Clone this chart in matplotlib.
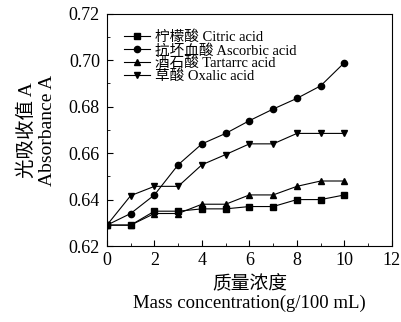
import matplotlib
matplotlib.use("Agg")
import matplotlib.pyplot as plt
from matplotlib.ticker import MultipleLocator, FormatStrFormatter

plt.rcParams["font.family"] = ["Liberation Serif", "Noto Sans CJK SC"]

conc = [0, 1, 2, 3, 4, 5, 6, 7, 8, 9, 10]
citric = [0.629, 0.629, 0.635, 0.635, 0.636, 0.636, 0.637, 0.637, 0.640, 0.640, 0.642]
ascorbic = [0.629, 0.634, 0.642, 0.655, 0.664, 0.6685, 0.674, 0.679, 0.6836, 0.689, 0.699]
tartaric = [0.629, 0.629, 0.634, 0.634, 0.638, 0.638, 0.642, 0.642, 0.6457, 0.648, 0.648]
oxalic = [0.629, 0.6417, 0.6457, 0.6457, 0.655, 0.6594, 0.664, 0.664, 0.6685, 0.6685, 0.6685]

series = [
    ("柠檬酸 Citric acid", citric, "s"),
    ("抗坏血酸 Ascorbic acid", ascorbic, "o"),
    ("酒石酸 Tartarrc acid", tartaric, "^"),
    ("草酸 Oxalic acid", oxalic, "v"),
]

fig = plt.figure(figsize=(4.02, 3.22), dpi=100)
ax = fig.add_axes([0.266, 0.236, 0.709, 0.721])

for label, vals, mk in series:
    ax.plot(conc, vals, color="black", lw=0.8, marker=mk, markersize=4.5, label=label)

ax.set_xlim(0, 12)
ax.set_ylim(0.62, 0.72)
ax.xaxis.set_major_locator(MultipleLocator(2))
ax.xaxis.set_minor_locator(MultipleLocator(1))
ax.yaxis.set_major_locator(MultipleLocator(0.02))
ax.yaxis.set_minor_locator(MultipleLocator(0.01))
ax.yaxis.set_major_formatter(FormatStrFormatter("%.2f"))
ax.tick_params(which="both", direction="in", labelsize=13)
ax.tick_params(axis="y", pad=5)
ax.tick_params(axis="x", pad=4)
ax.tick_params(which="major", length=4)
ax.tick_params(which="minor", length=2)
for s in ax.spines.values():
    s.set_linewidth(0.8)

ax.set_xlabel("质量浓度\nMass concentration(g/100 mL)", fontsize=13.5, labelpad=5,
              linespacing=1.1)
ax.set_ylabel("光吸收值 A\nAbsorbance A", fontsize=14, labelpad=9, linespacing=1.25)

ax.legend(loc="upper left", frameon=False, fontsize=10.5, labelspacing=-0.05,
          handlelength=1.8, handletextpad=0.3, borderaxespad=0.2,
          bbox_to_anchor=(0.03, 0.965))

fig.savefig("out.png", dpi=100)
